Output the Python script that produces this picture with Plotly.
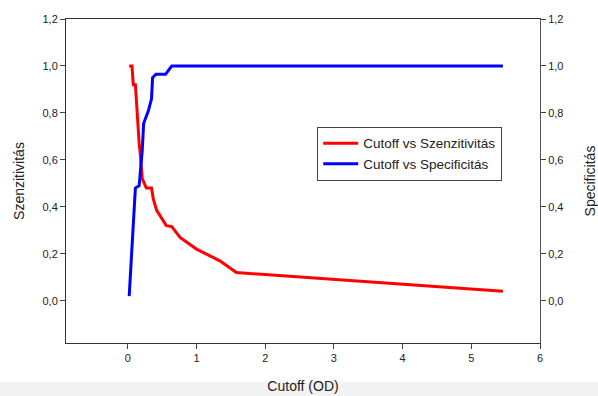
import plotly.graph_objects as go

# Sensitivity (Szenzitivitás) as a function of the cutoff
sens_cutoff = [0.02, 0.06, 0.08, 0.11, 0.165, 0.18, 0.21, 0.27, 0.345, 0.37, 0.42,
               0.56, 0.64, 0.76, 1.0, 1.34, 1.58, 5.46]
sens_values = [1.0, 1.0, 0.92, 0.92, 0.67, 0.63, 0.52, 0.48, 0.48, 0.435, 0.385,
               0.32, 0.316, 0.27, 0.22, 0.17, 0.12, 0.04]

# Specificity (Specificitás) as a function of the cutoff
spec_cutoff = [0.02, 0.11, 0.165, 0.21, 0.23, 0.30, 0.345, 0.36, 0.41, 0.55, 0.64, 5.46]
spec_values = [0.02, 0.48, 0.49, 0.64, 0.755, 0.81, 0.86, 0.95, 0.965, 0.965, 1.0, 1.0]

y_ticks = [0.0, 0.2, 0.4, 0.6, 0.8, 1.0, 1.2]
x_ticks = [0, 1, 2, 3, 4, 5, 6]

font_family = "Liberation Sans, Arial, sans-serif"

fig = go.Figure()
fig.add_trace(go.Scatter(
    x=sens_cutoff, y=sens_values, mode="lines",
    name="Cutoff vs Szenzitivitás",
    line=dict(color="#ff0000", width=3),
))
fig.add_trace(go.Scatter(
    x=spec_cutoff, y=spec_values, mode="lines",
    name="Cutoff vs Specificitás",
    line=dict(color="#0000ff", width=3),
    yaxis="y2",
))

axis_common = dict(
    showgrid=False, zeroline=False, showline=True, automargin=False,
    ticks="outside", ticklen=5, tickwidth=1,
    tickfont=dict(size=11, color="#222"),
)

fig.update_layout(
    width=598, height=396,
    margin=dict(l=66, r=58, t=19, b=53),
    paper_bgcolor="white", plot_bgcolor="white",
    separators=", ",
    font=dict(family=font_family, color="#222"),
    showlegend=True,
    legend=dict(
        x=0.53, y=0.667, xanchor="left", yanchor="top",
        bordercolor="#444", borderwidth=1, bgcolor="white",
        font=dict(size=13.5, color="#222"),
        tracegroupgap=0, itemwidth=35,
    ),
    xaxis=dict(
        range=[-0.9, 6], tickvals=x_ticks,
        linecolor="#333", mirror=True,
        title=dict(text="Cutoff (OD)", font=dict(size=14), standoff=17),
        **axis_common,
    ),
    yaxis=dict(
        range=[-0.18, 1.2], tickvals=y_ticks, tickformat=".1f",
        linecolor="#333",
        title=dict(text="Szenzitivitás", font=dict(size=14), standoff=14),
        **axis_common,
    ),
    yaxis2=dict(
        range=[-0.18, 1.2], tickvals=y_ticks, tickformat=".1f",
        overlaying="y", side="right", linecolor="#555",
        title=dict(text="Specificitás", font=dict(size=14), standoff=22),
        **axis_common,
    ),
    shapes=[dict(
        type="rect", xref="paper", yref="paper",
        x0=-0.2, x1=1.2, y0=-0.17, y1=-0.12,
        fillcolor="#f3f3f3", line=dict(width=0), layer="below",
    )],
)

fig.write_html("out.html")
